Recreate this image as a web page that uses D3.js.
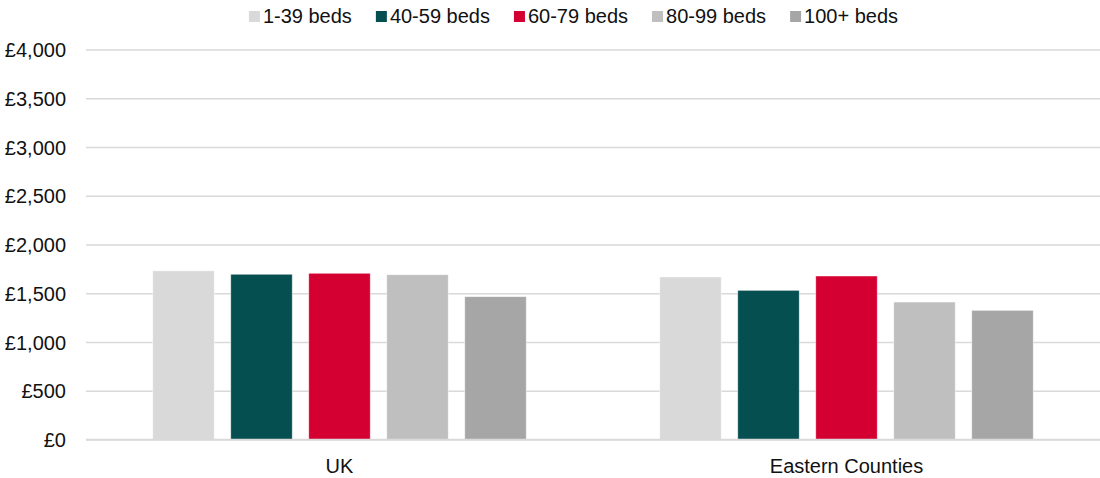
<!DOCTYPE html>
<html>
<head>
<meta charset="utf-8">
<script src="https://cdn.jsdelivr.net/npm/d3@7"></script>
<style>
  html, body { margin: 0; padding: 0; background: #fff; }
  svg { display: block; font-family: "Liberation Sans", Arial, sans-serif; }
</style>
</head>
<body>
<svg id="chart" width="1100" height="478"></svg>
<script>
// Average weekly fee by home size (number of beds)
const categories = ["UK", "Eastern Counties"];
const series = ["1-39 beds", "40-59 beds", "60-79 beds", "80-99 beds", "100+ beds"];
const colors = ["#D9D9D9", "#064F51", "#D50032", "#BFBFBF", "#A6A6A6"];
const ukValues = [1730, 1695, 1705, 1690, 1465];
const easternValues = [1667, 1530, 1677, 1410, 1325];
const yTicks = [0, 500, 1000, 1500, 2000, 2500, 3000, 3500, 4000];

const values = [ukValues, easternValues];
const rows = categories.map((c, i) => ({
  category: c,
  items: series.map((s, j) => ({ series: s, value: values[i][j], color: colors[j] }))
}));

const svg = d3.select("#chart");
const margin = { left: 86, right: 1100, top: 49.5, bottom: 439.5 };

const y = d3.scaleLinear().domain([0, 4000]).range([margin.bottom, margin.top]);
const x0 = d3.scaleBand().domain(categories).range([margin.left, margin.right])
  .paddingInner(0.2633).paddingOuter(0.2633 / 2);
const x1 = d3.scaleBand().domain(series).range([0, x0.bandwidth()])
  .paddingInner(0.2115).paddingOuter(0);

// horizontal gridlines and tick labels
const yAxis = d3.axisLeft(y).tickValues(yTicks)
  .tickSize(-(margin.right - margin.left))
  .tickPadding(20)
  .tickFormat(d => "£" + d3.format(",")(d));
const gy = svg.append("g").attr("transform", `translate(${margin.left},0)`).call(yAxis);
gy.select(".domain").remove();
gy.selectAll(".tick line").attr("stroke", "#D9D9D9").attr("stroke-width", 1.3);
gy.selectAll(".tick text").attr("fill", "#111").style("font-size", "20px")
  .attr("dy", "0.36em");

// bars
const groups = svg.append("g").selectAll("g").data(rows).join("g")
  .attr("transform", d => `translate(${x0(d.category)},0)`);
groups.selectAll("rect").data(d => d.items).join("rect")
  .attr("x", d => x1(d.series))
  .attr("width", x1.bandwidth())
  .attr("y", d => y(d.value))
  .attr("height", d => y(0) - y(d.value))
  .attr("fill", d => d.color)
  .attr("stroke", "#fff").attr("stroke-width", 0.8).attr("stroke-opacity", 0.6);

// category axis
const xAxis = d3.axisBottom(x0).tickSize(0).tickPadding(19);
const gx = svg.append("g").attr("transform", `translate(0,${y(0)})`).call(xAxis);
gx.select(".domain").attr("stroke", "#D9D9D9").attr("stroke-width", 1.3)
  .attr("d", `M${margin.left},0H${margin.right}`);
gx.selectAll(".tick text").attr("fill", "#111").style("font-size", "20px")
  .attr("dy", "0.71em");

// legend
const legend = svg.append("g");
const items = legend.selectAll("g").data(series).join("g");
items.append("rect").attr("width", 11).attr("height", 11).attr("y", 11)
  .attr("fill", (d, i) => colors[i]);
items.append("text").attr("x", 14).attr("y", 22.5).text(d => d)
  .attr("fill", "#111").style("font-size", "20px");
let cursor = 0;
items.each(function() {
  const g = d3.select(this);
  g.attr("transform", `translate(${cursor},0)`);
  cursor += 14 + g.select("text").node().getComputedTextLength() + 24;
});
const legendWidth = cursor - 24;
legend.attr("transform", `translate(${573.5 - legendWidth / 2},0)`);
</script>
</body>
</html>
